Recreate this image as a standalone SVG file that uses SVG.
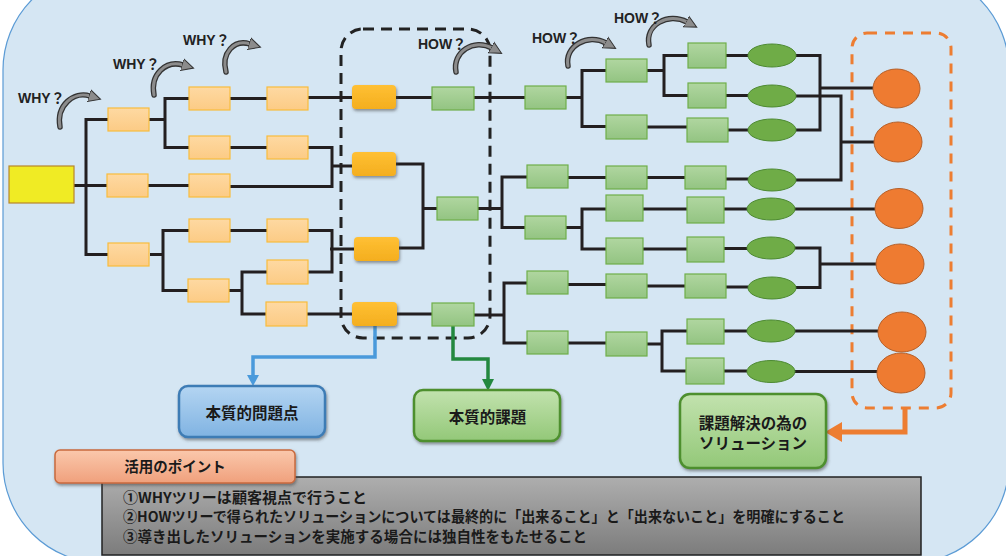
<svg xmlns="http://www.w3.org/2000/svg" width="1006" height="556" viewBox="0 0 1006 556">
<defs>
<linearGradient id="gOr" x1="0" y1="0" x2="0" y2="1"><stop offset="0" stop-color="#FED9A2"/><stop offset="1" stop-color="#FCCB85"/></linearGradient>
<linearGradient id="gGold" x1="0" y1="0" x2="0" y2="1"><stop offset="0" stop-color="#FFC034"/><stop offset="1" stop-color="#F4AE1E"/></linearGradient>
<linearGradient id="gGr" x1="0" y1="0" x2="0" y2="1"><stop offset="0" stop-color="#B0D6A0"/><stop offset="1" stop-color="#93C482"/></linearGradient>
<linearGradient id="gBlue" x1="0" y1="0" x2="0" y2="1"><stop offset="0" stop-color="#B4D5F2"/><stop offset="1" stop-color="#80B3E2"/></linearGradient>
<linearGradient id="gLab" x1="0" y1="0" x2="0" y2="1"><stop offset="0" stop-color="#C2E2AE"/><stop offset="1" stop-color="#93C878"/></linearGradient>
<linearGradient id="gSal" x1="0" y1="0" x2="0" y2="1"><stop offset="0" stop-color="#FAC8AC"/><stop offset="1" stop-color="#F0A07C"/></linearGradient>
<linearGradient id="gGray" x1="0" y1="0" x2="0" y2="1"><stop offset="0" stop-color="#AEAEAE"/><stop offset="1" stop-color="#7C7C7C"/></linearGradient>
<filter id="sh" x="-30%" y="-30%" width="160%" height="170%"><feDropShadow dx="1" dy="2" stdDeviation="1.8" flood-color="#444" flood-opacity="0.55"/></filter>
<marker id="curlHead" markerUnits="userSpaceOnUse" markerWidth="14" markerHeight="14" refX="1" refY="7" orient="auto"><path d="M0,1 L12,7 L0,13 Z" fill="#8c8c8c" stroke="#333" stroke-width="1"/></marker>
<style>
.or{fill:url(#gOr);stroke:#F9BC3C;stroke-width:1.2}
.gold{fill:url(#gGold);filter:url(#sh)}
.gr{fill:url(#gGr);stroke:#6FAE4A;stroke-width:1.2}
.el{fill:#6FAC47;stroke:#4E8A33;stroke-width:1}
.oc{fill:#EE7B31;stroke:#B5602A;stroke-width:1}
.ln{fill:none;stroke:#231F20;stroke-width:3}
.cO{fill:none;stroke:#333;stroke-width:5.5;stroke-linecap:round}
.cI{fill:none;stroke:#8c8c8c;stroke-width:3;stroke-linecap:round}
.q{font-family:"Liberation Sans","Noto Sans CJK JP",sans-serif;font-weight:bold;font-size:14px;fill:#222}
.jp{font-family:"Noto Sans CJK JP",sans-serif;font-weight:bold;fill:#1a1a1a}
</style>
</defs>
<rect x="3" y="-30" width="1006" height="593" rx="100" fill="#D5E6F3" stroke="#5B9BD5" stroke-width="1.2"/>

<g id="frames">
<rect x="341" y="29" width="149" height="309" rx="22" fill="none" stroke="#222" stroke-width="3" stroke-dasharray="11 7"/>
<rect x="852" y="33" width="99" height="375" rx="15" fill="none" stroke="#ED7D31" stroke-width="3" stroke-dasharray="10 8"/>
</g>

<g id="connectors">
<path class="ln" d="M74 185.5 H107 M108 119.5 H86 V254.5 H108 M149 119.5 H165 M189 98.5 H165 V147.5 H189 M230 98.5 H267 M308 97.5 H352 M230 147.5 H267 M308 147.5 H332 V186.5 H230 M332 166 H352 M148 185.5 H189 M150 254.5 H163 M189 230.5 H163 V290.5 H188 M230 230.5 H267 M308 230.5 H332 V272 H308 M330 249 H354 M229 290.5 H242 M267 272 H242 V314 H266 M307 314 H352"/>
<path class="ln" d="M396 97.5 H432 M474 97.5 H525 M396 164 H423 V248 H399 M423 208.5 H437 M478 208.5 H502 M527 177 H502 V227.5 H525 M397 314 H432 M474 315 H504 M527 283 H504 V343 H527"/>
<path class="ln" d="M566 97.5 H582 M606 70.5 H582 V126.5 H606 M647 70.5 H664 M688 55.5 H664 V95.5 H688 M647 127 H687 M726 55.5 H748 M726 95.5 H748 M728 130 H748 M796 55.5 H820 V130 H796 M820 88 H873 M796 96 H841 V180 H796 M841 142 H875 M568 177.5 H606 M647 177.5 H685 M726 179 H748 M566 227.5 H582 M606 209 H582 V249 H606 M643 209 H687 M724 209 H747 M794 209 H875 M643 249 H687 M724 248.5 H747 M794 248 H820 V287.5 H796 M820 264 H877 M568 284.5 H606 M647 286 H685 M726 287 H748 M568 343 H606 M647 344 H662 M687 331 H662 V371 H686 M724 331 H747 M794 331 H878 M724 371 H747 M794 371.5 H877"/>
<path d="M375 326 V357 H253 V377" fill="none" stroke="#4A9ADB" stroke-width="3.5"/>
<polygon points="247,375 259,375 253,386" fill="#4A9ADB"/>
<path d="M453 326 V359 H488 V381" fill="none" stroke="#23883F" stroke-width="3.5"/>
<polygon points="482,379 494,379 488,391" fill="#23883F"/>
<path d="M905 408 V432 H840" fill="none" stroke="#ED7D31" stroke-width="5"/>
<polygon points="842,422 842,442 825,432" fill="#ED7D31"/>
</g>

<g id="curls">
<path class="cO" d="M60 127 C56 105, 74 91, 90 96"/><path class="cI" d="M60 127 C56 105, 74 91, 90 96" marker-end="url(#curlHead)"/>
<path class="cO" d="M154 95 C150 74, 166 60, 183 65"/><path class="cI" d="M154 95 C150 74, 166 60, 183 65" marker-end="url(#curlHead)"/>
<path class="cO" d="M226 72 C221 53, 234 39, 250 44"/><path class="cI" d="M226 72 C221 53, 234 39, 250 44" marker-end="url(#curlHead)"/>
<path class="cO" d="M456 72 C452 52, 474 38, 492 48"/><path class="cI" d="M456 72 C452 52, 474 38, 492 48" marker-end="url(#curlHead)"/>
<path class="cO" d="M568 66 C564 46, 588 33, 606 43"/><path class="cI" d="M568 66 C564 46, 588 33, 606 43" marker-end="url(#curlHead)"/>
<path class="cO" d="M649 45 C645 25, 668 12, 687 22"/><path class="cI" d="M649 45 C645 25, 668 12, 687 22" marker-end="url(#curlHead)"/>
<text class="q" x="18" y="103">WHY？</text>
<text class="q" x="113" y="69">WHY？</text>
<text class="q" x="183" y="45">WHY？</text>
<text class="q" x="418" y="49">HOW？</text>
<text class="q" x="532" y="43">HOW？</text>
<text class="q" x="614" y="23">HOW？</text>
</g>

<g id="root"><rect x="9" y="166" width="65" height="37" fill="#F0EB24" stroke="#B8862B" stroke-width="1.2"/></g>

<g id="why-nodes">
<rect id="w1a" class="or" x="108" y="108" width="41" height="23"/>
<rect id="w1b" class="or" x="107" y="174" width="41" height="23"/>
<rect id="w1c" class="or" x="108" y="243" width="41" height="23"/>
<rect id="w2a" class="or" x="189" y="87" width="41" height="23"/>
<rect id="w2b" class="or" x="189" y="136" width="41" height="23"/>
<rect id="w2c" class="or" x="189" y="174" width="41" height="23"/>
<rect id="w2d" class="or" x="189" y="219" width="41" height="23"/>
<rect id="w2e" class="or" x="188" y="279" width="41" height="23"/>
<rect id="w3a" class="or" x="267" y="87" width="41" height="23"/>
<rect id="w3b" class="or" x="267" y="136" width="41" height="23"/>
<rect id="w3c" class="or" x="267" y="219" width="41" height="23"/>
<rect id="w3d" class="or" x="267" y="260" width="41" height="24"/>
<rect id="w3e" class="or" x="266" y="302" width="41" height="24"/>
</g>

<g id="core-nodes">
<rect id="c1" class="gold" x="352" y="85" width="44" height="24" rx="4"/>
<rect id="c2" class="gold" x="352" y="152" width="44" height="24" rx="4"/>
<rect id="c3" class="gold" x="354" y="237" width="45" height="24" rx="4"/>
<rect id="c4" class="gold" x="352" y="302" width="45" height="24" rx="4"/>
</g>

<g id="how-nodes">
<rect id="h1" class="gr" x="432" y="87" width="42" height="23"/>
<rect id="h2" class="gr" x="437" y="197" width="41" height="23"/>
<rect id="h3" class="gr" x="432" y="303" width="42" height="23"/>
<rect id="r1a" class="gr" x="525" y="86" width="41" height="23"/>
<rect id="r1b" class="gr" x="527" y="165" width="41" height="23"/>
<rect id="r1c" class="gr" x="525" y="216" width="41" height="23"/>
<rect id="r1d" class="gr" x="527" y="271" width="41" height="23"/>
<rect id="r1e" class="gr" x="527" y="331" width="41" height="23"/>
<rect id="r2a" class="gr" x="606" y="59" width="41" height="23"/>
<rect id="r2b" class="gr" x="606" y="115" width="41" height="24"/>
<rect id="r2c" class="gr" x="606" y="166" width="41" height="23"/>
<rect id="r2d" class="gr" x="606" y="195" width="37" height="26"/>
<rect id="r2e" class="gr" x="606" y="238" width="37" height="26"/>
<rect id="r2f" class="gr" x="606" y="274" width="41" height="24"/>
<rect id="r2g" class="gr" x="606" y="332" width="41" height="24"/>
<rect id="r3a" class="gr" x="688" y="43" width="38" height="25"/>
<rect id="r3b" class="gr" x="688" y="83" width="38" height="25"/>
<rect id="r3c" class="gr" x="687" y="118" width="41" height="24"/>
<rect id="r3d" class="gr" x="685" y="166" width="41" height="23"/>
<rect id="r3e" class="gr" x="687" y="197" width="37" height="26"/>
<rect id="r3f" class="gr" x="687" y="237" width="37" height="25"/>
<rect id="r3g" class="gr" x="685" y="274" width="41" height="24"/>
<rect id="r3h" class="gr" x="687" y="319" width="37" height="25"/>
<rect id="r3i" class="gr" x="686" y="358" width="38" height="26"/>
</g>

<g id="solution-nodes">
<ellipse class="el" cx="772" cy="55.5" rx="24" ry="11.5"/>
<ellipse class="el" cx="772" cy="96" rx="24" ry="11"/>
<ellipse class="el" cx="772" cy="130" rx="24" ry="11"/>
<ellipse class="el" cx="772" cy="180" rx="24" ry="11"/>
<ellipse class="el" cx="771" cy="209" rx="24" ry="11"/>
<ellipse class="el" cx="771" cy="248" rx="24" ry="11"/>
<ellipse class="el" cx="772" cy="288" rx="24" ry="11"/>
<ellipse class="el" cx="771" cy="331" rx="24" ry="11"/>
<ellipse class="el" cx="771" cy="371.5" rx="24" ry="11"/>
</g>

<g id="final-nodes">
<ellipse class="oc" cx="896.5" cy="88.5" rx="23.5" ry="19.5"/>
<ellipse class="oc" cx="898" cy="142" rx="24" ry="20"/>
<ellipse class="oc" cx="899" cy="208.5" rx="24" ry="20"/>
<ellipse class="oc" cx="900" cy="264" rx="24" ry="20"/>
<ellipse class="oc" cx="902" cy="332" rx="24" ry="20"/>
<ellipse class="oc" cx="901" cy="373" rx="24" ry="20"/>
</g>

<g id="label-problem">
<rect x="179" y="386" width="146" height="51" rx="9" fill="url(#gBlue)" stroke="#3E7CB5" stroke-width="2.5" filter="url(#sh)"/>
<text class="jp" x="252" y="419" font-size="15.5" text-anchor="middle">本質的問題点</text>
</g>
<g id="label-issue">
<rect x="414" y="390" width="146" height="51" rx="9" fill="url(#gLab)" stroke="#4E8F2F" stroke-width="2.5" filter="url(#sh)"/>
<text class="jp" x="487.5" y="423" font-size="15.5" text-anchor="middle">本質的課題</text>
</g>
<g id="label-solution">
<rect x="680" y="394" width="146" height="74" rx="10" fill="url(#gLab)" stroke="#4E8F2F" stroke-width="2.5" filter="url(#sh)"/>
<text class="jp" x="753" y="429" font-size="15.5" text-anchor="middle">課題解決の為の</text>
<text class="jp" x="753" y="449" font-size="15.5" text-anchor="middle">ソリューション</text>
</g>

<g id="points-box">
<rect x="102" y="477" width="819" height="78" fill="url(#gGray)" stroke="#222" stroke-width="1.5"/>
<text class="jp" x="123" y="503" font-size="14.5" textLength="244" lengthAdjust="spacingAndGlyphs">①WHYツリーは顧客視点で行うこと</text>
<text class="jp" x="123" y="522" font-size="14.5" textLength="722" lengthAdjust="spacingAndGlyphs">②HOWツリーで得られたソリューションについては最終的に「出来ること」と「出来ないこと」を明確にすること</text>
<text class="jp" x="123" y="542" font-size="14.5" textLength="464" lengthAdjust="spacingAndGlyphs">③導き出したソリューションを実施する場合には独自性をもたせること</text>
</g>
<g id="points-title">
<rect x="55" y="450" width="240" height="33" rx="5" fill="url(#gSal)" stroke="#C96A3E" stroke-width="1.5" filter="url(#sh)"/>
<text class="jp" x="175" y="472" font-size="14.5" text-anchor="middle">活用のポイント</text>
</g>
</svg>
